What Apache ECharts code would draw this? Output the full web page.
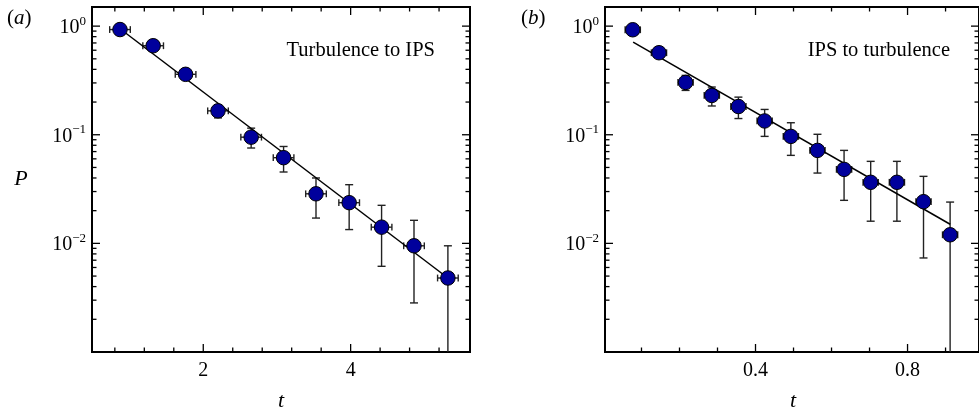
<!DOCTYPE html>
<html><head><meta charset="utf-8">
<script src="https://cdn.jsdelivr.net/npm/echarts@6/dist/echarts.min.js"></script>
<style>html,body{margin:0;padding:0;background:#fff}#c{width:979px;height:410px}</style>
</head><body><div id="c"></div>
<script>
// ---------- Panel (a): Turbulence to IPS ----------
const tA     = [0.87, 1.32, 1.76, 2.20, 2.65, 3.09, 3.53, 3.98, 4.42, 4.86, 5.32];
const pA     = [0.93, 0.66, 0.36, 0.166, 0.095, 0.0615, 0.0286, 0.0237, 0.0141, 0.0095, 0.0048];
const pA_lo  = [0.89, 0.63, 0.34, 0.143, 0.0755, 0.0454, 0.0171, 0.0134, 0.00615, 0.00283, 0.0005];
const pA_hi  = [0.97, 0.69, 0.38, 0.189, 0.115, 0.078, 0.040, 0.0347, 0.0224, 0.0163, 0.0095];
const tA_err = [0.14, 0.14, 0.14, 0.14, 0.14, 0.14, 0.14, 0.14, 0.14, 0.14, 0.14];
const fitA_t = [0.87, 5.32];
const fitA_p = [0.946, 0.0048];

// ---------- Panel (b): IPS to turbulence ----------
const tB     = [0.077, 0.146, 0.216, 0.285, 0.355, 0.424, 0.493, 0.563, 0.633, 0.703, 0.772, 0.842, 0.912];
const pB     = [0.926, 0.569, 0.303, 0.230, 0.182, 0.134, 0.0966, 0.0718, 0.048, 0.0365, 0.0365, 0.0242, 0.0120];
const pB_lo  = [0.89, 0.545, 0.256, 0.184, 0.141, 0.0966, 0.0646, 0.0444, 0.0249, 0.0160, 0.0160, 0.00734, 0.0005];
const pB_hi  = [0.96, 0.595, 0.352, 0.275, 0.222, 0.171, 0.129, 0.101, 0.0718, 0.0569, 0.0569, 0.0414, 0.024];
const tB_err = [0.02, 0.02, 0.02, 0.02, 0.02, 0.02, 0.02, 0.02, 0.02, 0.02, 0.02, 0.02, 0.02];
const fitB_t = [0.078, 0.912];
const fitB_p = [0.713, 0.015];

// ---------- Ticks / labels ----------
const xA_labels = [2, 4];
const xA_minor  = [0.8, 1.2, 1.6, 2.4, 2.8, 3.2, 3.6, 4.4, 4.8, 5.2];
const xB_labels = [0.4, 0.8];
const xB_minor  = [0.1, 0.2, 0.3, 0.5, 0.6, 0.7, 0.9];
const y_labels  = [1, 0.1, 0.01];
const y_minor   = [0.9, 0.8, 0.7, 0.6, 0.5, 0.4, 0.3, 0.2,
                   0.09, 0.08, 0.07, 0.06, 0.05, 0.04, 0.03, 0.02,
                   0.009, 0.008, 0.007, 0.006, 0.005, 0.004, 0.003, 0.002];
const xA_range = [0.49, 5.62];
const xB_range = [0.004, 0.988];
const y_range  = [0.001, 1.5];

const SERIF = '"Liberation Serif", "DejaVu Serif", serif';
const MARK = '#00009c';

function yFmt(v) {
  const l = Math.log10(v), e = Math.round(l);
  if (Math.abs(l - e) > 1e-6 || e < -2 || e > 0) return '';
  return '{b|10}{s|' + (e < 0 ? '\u2212' + (-e) : e) + '}';
}
function xFmt(list) {
  return v => list.some(x => Math.abs(x - v) < 1e-9) ? String(v) : '';
}

function tickRender(xMaj, xMin, yMaj, yMin) {
  return function (params, api) {
    const cs = params.coordSys;
    const L = cs.x, T = cs.y, R = cs.x + cs.width, B = cs.y + cs.height;
    const ch = [];
    const st = { stroke: '#000', lineWidth: 1.3 };
    const add = (x1, y1, x2, y2) => ch.push({ type: 'line', shape: { x1, y1, x2, y2 }, style: st });
    const MJ = 8, MN = 4.5;
    xMaj.forEach(v => { const x = api.coord([v, 0.1])[0]; add(x, B, x, B - MJ); add(x, T, x, T + MJ); });
    xMin.forEach(v => { const x = api.coord([v, 0.1])[0]; add(x, B, x, B - MN); add(x, T, x, T + MN); });
    yMaj.forEach(v => { const y = api.coord([xMaj[0], v])[1]; add(L, y, L + MJ, y); add(R, y, R - MJ, y); });
    yMin.forEach(v => { const y = api.coord([xMaj[0], v])[1]; add(L, y, L + MN, y); add(R, y, R - MN, y); });
    return { type: 'group', children: ch };
  };
}

function errRender(params, api) {
  const cs = params.coordSys;
  const B = cs.y + cs.height;
  const t = api.value(0), p = api.value(1);
  const c = api.coord([t, p]);
  const xl = api.coord([api.value(2), p])[0];
  const xr = api.coord([api.value(3), p])[0];
  let yl = api.coord([t, api.value(4)])[1];
  const yh = api.coord([t, api.value(5)])[1];
  const st = { stroke: '#222', lineWidth: 1.4 };
  const ch = [];
  const add = (x1, y1, x2, y2) => ch.push({ type: 'line', shape: { x1, y1, x2, y2 }, style: st });
  const capH = 3.4, capW = 4;
  add(xl, c[1], xr, c[1]);
  add(xl, c[1] - capH, xl, c[1] + capH);
  add(xr, c[1] - capH, xr, c[1] + capH);
  let clipped = false;
  if (yl > B) { yl = B; clipped = true; }
  add(c[0], yh, c[0], yl);
  add(c[0] - capW, yh, c[0] + capW, yh);
  if (!clipped) add(c[0] - capW, yl, c[0] + capW, yl);
  return { type: 'group', children: ch };
}

const grids = [
  { left: 92, top: 7, width: 378, height: 345 },
  { left: 605, top: 7, width: 377, height: 345 }
];

function xAxisDef(gi, range, labels) {
  return {
    type: 'value', gridIndex: gi, min: range[0], max: range[1],
    axisLine: { show: false }, axisTick: { show: false }, splitLine: { show: false },
    axisLabel: {
      customValues: labels, formatter: xFmt(labels),
      color: '#000', fontFamily: SERIF, fontSize: 20, margin: 9
    }
  };
}
function yAxisDef(gi) {
  return {
    type: 'log', logBase: 10, gridIndex: gi, min: y_range[0], max: y_range[1],
    axisLine: { show: false }, axisTick: { show: false }, splitLine: { show: false },
    minorTick: { show: false }, minorSplitLine: { show: false },
    axisLabel: {
      formatter: yFmt, margin: 6, color: '#000',
      rich: {
        b: { fontFamily: SERIF, fontSize: 20, lineHeight: 23, verticalAlign: 'bottom', color: '#000' },
        s: { fontFamily: SERIF, fontSize: 13, lineHeight: 12, verticalAlign: 'top', color: '#000' }
      }
    }
  };
}

function panelSeries(gi, t, p, lo, hi, terr, ft, fp, xMaj, xMin) {
  return [
    {
      type: 'custom', xAxisIndex: gi, yAxisIndex: gi, renderItem: errRender, z: 2,
      data: t.map((v, i) => [v, p[i], v - terr[i], v + terr[i], lo[i], hi[i]]),
      encode: { x: 0, y: 1 }, silent: true
    },
    {
      type: 'line', xAxisIndex: gi, yAxisIndex: gi, z: 3, symbol: 'none', silent: true,
      data: ft.map((v, i) => [v, fp[i]]),
      lineStyle: { color: '#000', width: 1.5 }
    },
    {
      type: 'scatter', xAxisIndex: gi, yAxisIndex: gi, z: 4, symbol: 'circle', symbolSize: 14.5,
      data: t.map((v, i) => [v, p[i]]),
      itemStyle: { color: MARK, borderColor: '#000', borderWidth: 1, opacity: 1 }
    },
    {
      type: 'custom', xAxisIndex: gi, yAxisIndex: gi, z: 5, silent: true,
      renderItem: tickRender(xMaj, xMin, y_labels, y_minor),
      data: [[xMaj[0], 0.1]], encode: { x: 0, y: 1 }
    }
  ];
}

const chart = echarts.init(document.getElementById('c'), null, { renderer: 'canvas' });
chart.setOption({
  animation: false,
  backgroundColor: '#fff',
  grid: grids.map(g => Object.assign({ show: true, borderColor: '#000', borderWidth: 2, backgroundColor: 'transparent', containLabel: false }, g)),
  xAxis: [xAxisDef(0, xA_range, xA_labels), xAxisDef(1, xB_range, xB_labels)],
  yAxis: [yAxisDef(0), yAxisDef(1)],
  series: [].concat(
    panelSeries(0, tA, pA, pA_lo, pA_hi, tA_err, fitA_t, fitA_p, xA_labels, xA_minor),
    panelSeries(1, tB, pB, pB_lo, pB_hi, tB_err, fitB_t, fitB_p, xB_labels, xB_minor)
  ),
  graphic: [
    { type: 'text', left: 7, top: 8, style: { text: '({i|a})', font: '21px ' + SERIF, fill: '#000',
      rich: { i: { fontStyle: 'italic', fontSize: 21, fontFamily: SERIF } } } },
    { type: 'text', left: 521, top: 8, style: { text: '({i|b})', font: '21px ' + SERIF, fill: '#000',
      rich: { i: { fontStyle: 'italic', fontSize: 21, fontFamily: SERIF } } } },
    { type: 'text', x: 21, y: 179, style: { text: 'P', font: 'italic 22px ' + SERIF, fill: '#000', align: 'center', verticalAlign: 'middle' } },
    { type: 'text', x: 281, y: 401, style: { text: 't', font: 'italic 22px ' + SERIF, fill: '#000', align: 'center', verticalAlign: 'middle' } },
    { type: 'text', x: 793, y: 401, style: { text: 't', font: 'italic 22px ' + SERIF, fill: '#000', align: 'center', verticalAlign: 'middle' } },
    { type: 'text', x: 435, y: 51, style: { text: 'Turbulence to IPS', font: '20.5px ' + SERIF, fill: '#000', align: 'right', verticalAlign: 'middle' } },
    { type: 'text', x: 950, y: 51, style: { text: 'IPS to turbulence', font: '20.5px ' + SERIF, fill: '#000', align: 'right', verticalAlign: 'middle' } }
  ]
});
</script>
</body></html>
